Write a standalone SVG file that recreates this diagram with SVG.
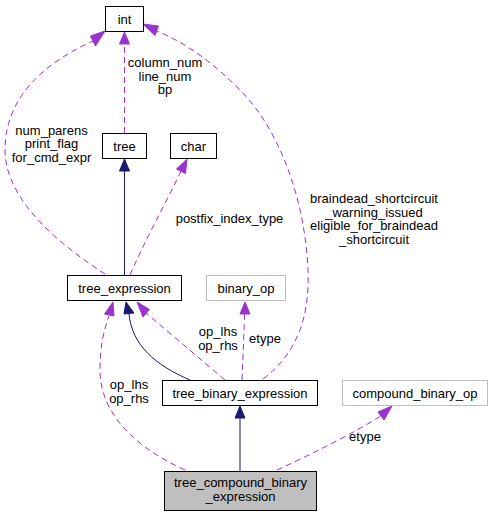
<svg xmlns="http://www.w3.org/2000/svg" width="493" height="517" viewBox="0 0 493 517">
<style>
text{font-family:"Liberation Sans",Arial,sans-serif;font-size:13px;fill:#000;text-anchor:middle}
.box{fill:#fff;stroke:#000;stroke-width:1}
.gbox{fill:#fff;stroke:#bfbfbf;stroke-width:1}
.dash{fill:none;stroke:#9a32cd;stroke-width:1;stroke-dasharray:6,4}
.solid{fill:none;stroke:#191970;stroke-width:1}
.pa{fill:#9a32cd;stroke:#9a32cd}
.na{fill:#191970;stroke:#191970}
</style>
<rect width="493" height="517" fill="#fff"/>
<g id="connectors">
  <!-- tree -> int -->
  <path class="dash" d="M124.5,133 L124.5,44"/>
  <polygon class="pa" points="124.5,32 129.5,44 119.5,44"/>
  <text x="165" y="67">column_num</text>
  <text x="165" y="80.5">line_num</text>
  <text x="165" y="94">bp</text>
  <!-- tree_expression -> tree -->
  <path class="solid" d="M124.5,275 L124.5,171"/>
  <polygon class="na" points="124.5,159 129.5,171 119.5,171"/>
  <!-- tree_expression -> int -->
  <path class="dash" d="M105,274 C60,245 5,200 5,150 C5,100 40,65 93,41"/>
  <polygon class="pa" points="105,31 95.5,46 90.5,36"/>
  <text x="51.5" y="134.5">num_parens</text>
  <text x="51.5" y="148">print_flag</text>
  <text x="51.5" y="161.5">for_cmd_expr</text>
  <!-- tree_expression -> char -->
  <path class="dash" d="M130,275 C145,240 165,205 181,171"/>
  <polygon class="pa" points="187,159 185.5,173.5 176.5,169"/>
  <text x="229.5" y="223">postfix_index_type</text>
  <!-- tree_binary_expression -> int -->
  <path class="dash" d="M263,379 C295,355 310,320 308,270 C305,200 280,130 240,90 C215,65 190,45 157,31"/>
  <polygon class="pa" points="143,24 158.5,26 155,35.5"/>
  <text x="374" y="203">braindead_shortcircuit</text>
  <text x="374" y="216.5">_warning_issued</text>
  <text x="374" y="230">eligible_for_braindead</text>
  <text x="374" y="243.5">_shortcircuit</text>
  <!-- tree_binary_expression -> tree_expression (inheritance) -->
  <path class="solid" d="M190,380 C155,365 132,345 129,314"/>
  <polygon class="na" points="126,302 134,313 124,314"/>
  <!-- tree_binary_expression -> tree_expression (usage) -->
  <path class="dash" d="M225,380 L146,313"/>
  <polygon class="pa" points="137,302 149.5,309.5 143,317"/>
  <text x="218" y="336">op_lhs</text>
  <text x="218" y="349.5">op_rhs</text>
  <!-- tree_binary_expression -> binary_op -->
  <path class="dash" d="M242,380 C243,355 244,335 244.5,314"/>
  <polygon class="pa" points="245,302 250,314 240,314"/>
  <text x="265" y="343">etype</text>
  <!-- tree_compound -> tree_expression -->
  <path class="dash" d="M185,470 C130,445 100,410 100,370 C100,345 104,330 109,316"/>
  <polygon class="pa" points="113,302 114,316 104.5,314"/>
  <text x="129" y="389">op_lhs</text>
  <text x="129" y="403">op_rhs</text>
  <!-- tree_compound -> tree_binary_expression -->
  <path class="solid" d="M240,471 L240,418"/>
  <polygon class="na" points="240,406 245,418 235,418"/>
  <!-- tree_compound -> compound_binary_op -->
  <path class="dash" d="M277,470 C310,455 350,435 381,416"/>
  <polygon class="pa" points="392,406 384,420 378,412"/>
  <text x="365" y="441">etype</text>
</g>
<g id="node-int"><rect class="box" x="105.5" y="6.5" width="38" height="25"/><text x="124.5" y="23.5">int</text></g>
<g id="node-tree"><rect class="box" x="102.5" y="133.5" width="44" height="25"/><text x="124.5" y="150.5">tree</text></g>
<g id="node-char"><rect class="box" x="170.5" y="133.5" width="46" height="25"/><text x="193.5" y="150.5">char</text></g>
<g id="node-tree_expression"><rect class="box" x="67.5" y="275.5" width="114" height="25"/><text x="124.5" y="292.5">tree_expression</text></g>
<g id="node-binary_op"><rect class="gbox" x="206.5" y="275.5" width="79" height="25"/><text x="246" y="292.5">binary_op</text></g>
<g id="node-tree_binary_expression"><rect class="box" x="162.5" y="380.5" width="155" height="25"/><text x="240" y="397.5">tree_binary_expression</text></g>
<g id="node-compound_binary_op"><rect class="gbox" x="342.5" y="380.5" width="145" height="25"/><text x="415" y="397.5">compound_binary_op</text></g>
<g id="node-tree_compound_binary_expression"><rect x="164.5" y="471.5" width="152" height="39" fill="#bfbfbf" stroke="#000"/><text x="240.5" y="487">tree_compound_binary</text><text x="240.5" y="501">_expression</text></g>
</svg>
